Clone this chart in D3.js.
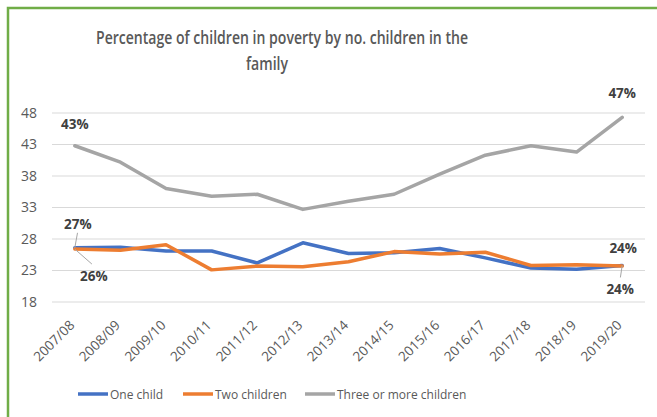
<!DOCTYPE html>
<html>
<head>
<meta charset="utf-8">
<script src="https://cdn.jsdelivr.net/npm/d3@7"></script>
<style>
	body { margin: 0; background: #fff; }
	svg { display: block; font-family: 'Open Sans', sans-serif; }
</style>
</head>
<body>
<svg id="svg" width="657" height="417"></svg>
<script>
const years = ['2007/08', '2008/09', '2009/10', '2010/11', '2011/12', '2012/13', '2013/14',
	'2014/15', '2015/16', '2016/17', '2017/18', '2018/19', '2019/20'];
const oneChild = [26.6, 26.7, 26.1, 26.1, 24.2, 27.4, 25.7, 25.8, 26.5, 25.0, 23.4, 23.2, 23.8];
const twoChildren = [26.4, 26.2, 27.1, 23.1, 23.7, 23.6, 24.4, 26.0, 25.6, 25.9, 23.8, 23.9, 23.7];
const threePlus = [42.8, 40.2, 36.0, 34.8, 35.1, 32.7, 34.0, 35.1, 38.3, 41.3, 42.8, 41.8, 47.3];
const yTicks = [18, 23, 28, 33, 38, 43, 48];
const seriesNames = ['One child', 'Two children', 'Three or more children'];
const titleLines = ['Percentage of children in poverty by no. children in the', 'family'];
const colors = ['#4472c4', '#ed7d31', '#a5a5a5'];

const svg = d3.select('#svg');
const textColor = '#595959';

// green frame around the chart
svg.append('rect')
	.attr('x', 8).attr('y', 8)
	.attr('width', 670).attr('height', 430)
	.attr('fill', 'none')
	.attr('stroke', '#70ad47')
	.attr('stroke-width', 2.5);

// title, narrowed to get closer to Calibri widths
const titleX = [282, 267];
svg.append('g')
	.selectAll('text')
	.data(titleLines)
	.enter()
	.append('text')
	.attr('transform', (d, i) => `translate(${titleX[i]},${44 + i * 26}) scale(0.76,1)`)
	.attr('text-anchor', 'middle')
	.attr('font-size', 18.5).attr('font-weight', 600)
	.attr('fill', textColor)
	.text((d) => d);

const x = d3.scalePoint().domain(years).range([52, 645]).padding(0.5);
const y = d3.scaleLinear().domain([18, 48]).range([302, 113]);

// gridlines
svg.append('g')
	.selectAll('line')
	.data(yTicks)
	.enter()
	.append('line')
	.attr('x1', 52).attr('x2', 645)
	.attr('y1', (d) => y(d)).attr('y2', (d) => y(d))
	.attr('stroke', '#d9d9d9')
	.attr('stroke-width', 1);

const yAxis = svg.append('g')
	.attr('transform', 'translate(41,0)')
	.call(d3.axisLeft(y).tickValues(yTicks).tickSize(0).tickPadding(4));
yAxis.select('.domain').remove();
yAxis.selectAll('text')
	.attr('font-size', 14)
	.attr('font-family', 'Open Sans, sans-serif')
	.attr('fill', textColor);

const xAxis = svg.append('g')
	.attr('transform', 'translate(0,302)')
	.call(d3.axisBottom(x).tickSize(0));
xAxis.select('.domain').remove();
xAxis.selectAll('text')
	.attr('font-size', 13.5)
	.attr('font-family', 'Open Sans, sans-serif')
	.attr('fill', textColor)
	.attr('text-anchor', 'end')
	.attr('dy', 0)
	.attr('transform', 'translate(-2,22) rotate(-45)');

const line = d3.line()
	.x((d, i) => x(years[i]))
	.y((d) => y(d));

[oneChild, twoChildren, threePlus].forEach((values, k) => {
	svg.append('path')
		.datum(values)
		.attr('d', line)
		.attr('fill', 'none')
		.attr('stroke', colors[k])
		.attr('stroke-width', 3.5)
		.attr('stroke-linejoin', 'round')
		.attr('stroke-linecap', 'round');
});

// data labels: [series, index, dx, dy, leader]
const labels = [
	[threePlus, 0, 0, -22, false],
	[oneChild, 0, 3, -24, true],
	[twoChildren, 0, 19, 27, true],
	[threePlus, 12, 0, -24, false],
	[twoChildren, 12, 1, -18, false],
	[oneChild, 12, -2, 24, true]
];
labels.forEach(([values, i, dx, dy, leader]) => {
	const px = x(years[i]);
	const py = y(values[i]);
	if (leader) {
		const ty = dy < 0 ? py + dy + 9 : py + dy - 12;
		svg.append('line')
			.attr('x1', px).attr('y1', py)
			.attr('x2', px + dx * 0.9).attr('y2', ty)
			.attr('stroke', '#a6a6a6')
			.attr('stroke-width', 1);
	}
	svg.append('text')
		.attr('x', px + dx).attr('y', py + dy + 5)
		.attr('text-anchor', 'middle')
		.attr('font-size', 13.5).attr('font-weight', 700)
		.attr('fill', '#404040')
		.text(Math.round(values[i]) + '%');
});

// legend
const legendX = [78, 183, 305];
const legend = svg.append('g')
	.selectAll('g')
	.data(seriesNames)
	.enter()
	.append('g')
	.attr('transform', (d, i) => `translate(${legendX[i]},394)`);
legend.append('line')
	.attr('x1', 0).attr('x2', 30)
	.attr('stroke', (d, i) => colors[i])
	.attr('stroke-width', 3.5);
legend.append('text')
	.attr('x', 32).attr('y', 4.5)
	.attr('font-size', 12)
	.attr('fill', textColor)
	.text((d) => d);
</script>
</body>
</html>
